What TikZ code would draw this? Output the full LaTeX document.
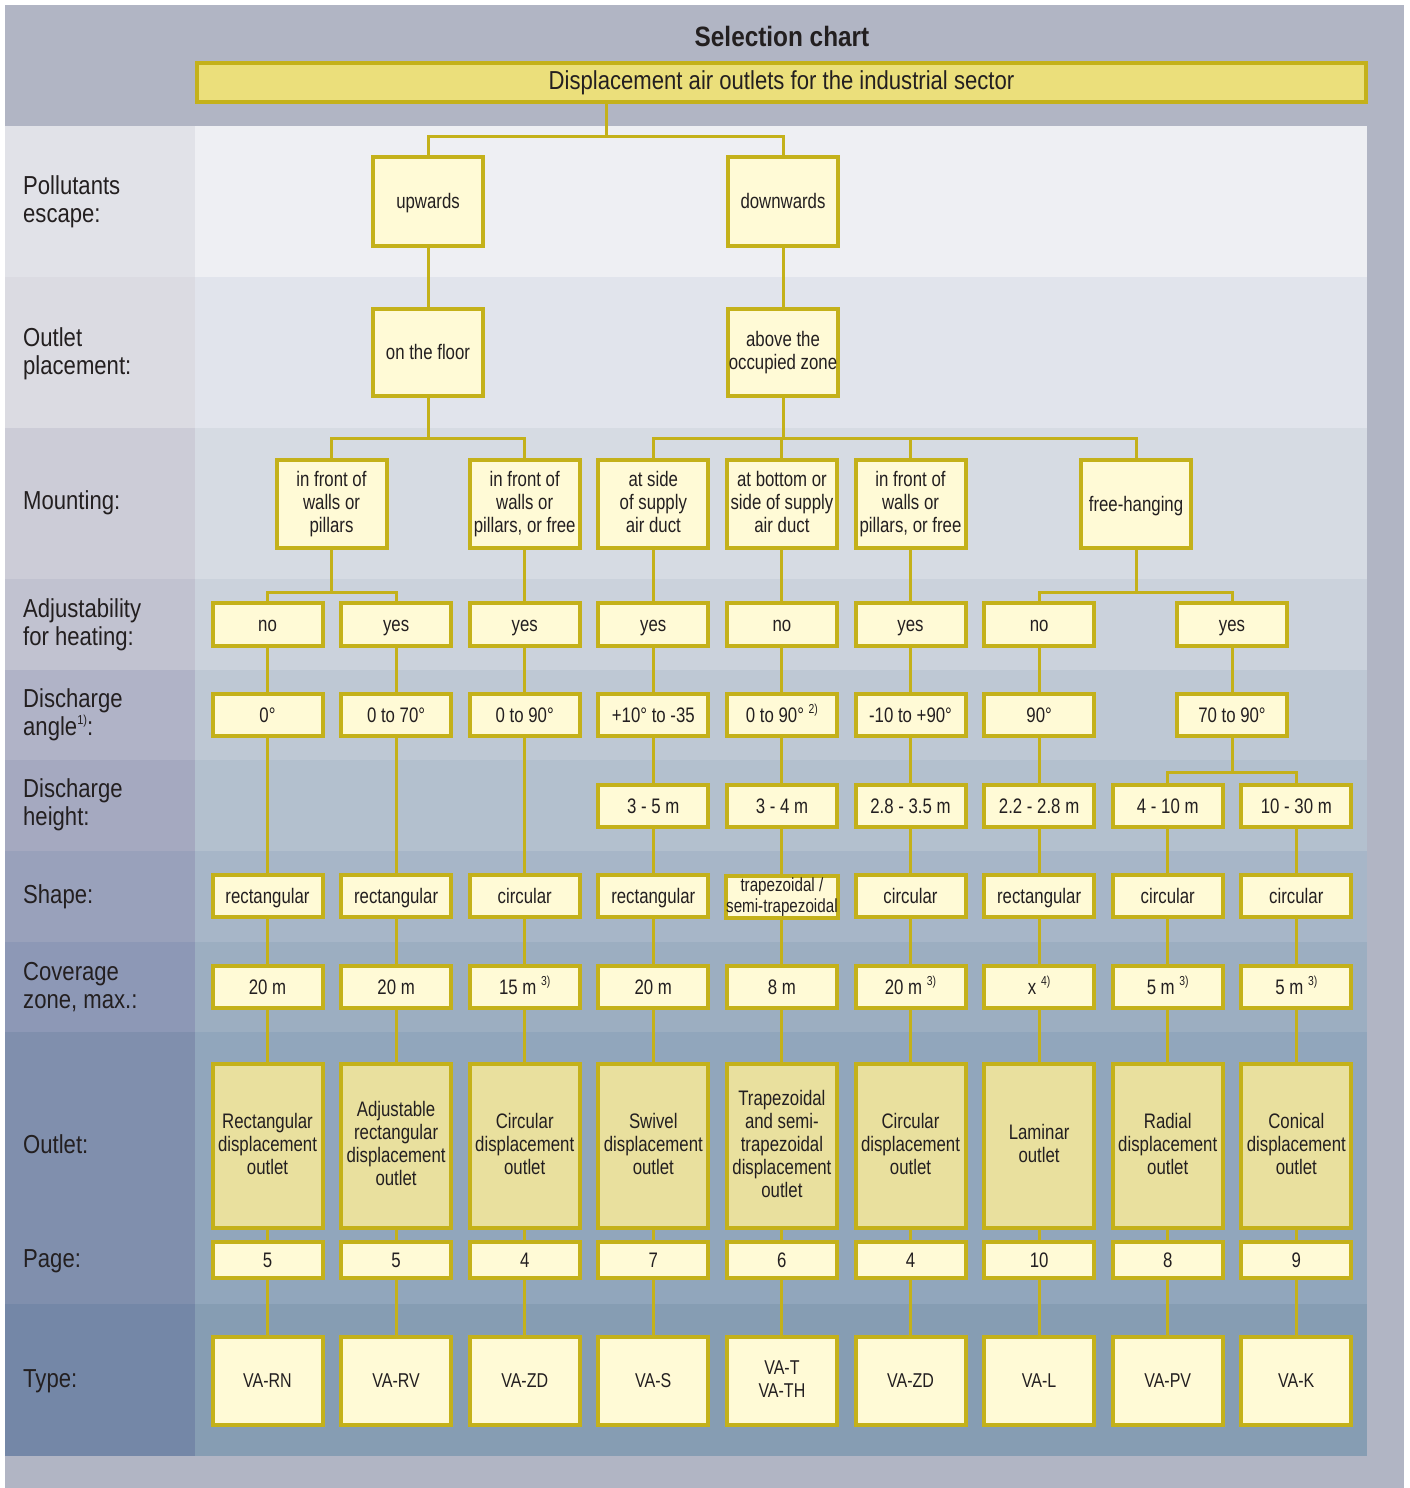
\documentclass[tikz,border=0pt]{standalone}
\usepackage{fontspec}
\setmainfont{Liberation Sans}[FakeStretch=0.8]
\newfontfamily\lblfam{Liberation Sans}[FakeStretch=0.85]
\newfontfamily\ttlfam{Liberation Sans}[FakeStretch=0.87]
\usetikzlibrary{calc}
\definecolor{frame}{HTML}{B1B5C4}
\definecolor{r1m}{HTML}{EEEFF3}\definecolor{r1l}{HTML}{E1E2E8}
\definecolor{r2m}{HTML}{E1E4EC}\definecolor{r2l}{HTML}{DBDBE2}
\definecolor{r3m}{HTML}{D6DBE3}\definecolor{r3l}{HTML}{CCCCD7}
\definecolor{r4m}{HTML}{CBD2DC}\definecolor{r4l}{HTML}{C1C2D0}
\definecolor{r5m}{HTML}{BEC8D4}\definecolor{r5l}{HTML}{B0B3C7}
\definecolor{r6m}{HTML}{B3C0CE}\definecolor{r6l}{HTML}{A5A9C0}
\definecolor{r7m}{HTML}{A7B6C8}\definecolor{r7l}{HTML}{99A1BB}
\definecolor{r8m}{HTML}{9CAEC1}\definecolor{r8l}{HTML}{8D98B6}
\definecolor{r9m}{HTML}{91A6BC}\definecolor{r9l}{HTML}{808FAD}
\definecolor{r10m}{HTML}{869DB3}\definecolor{r10l}{HTML}{7487A7}
\definecolor{lfill}{HTML}{FFFAD6}
\definecolor{ofill}{HTML}{E9E09E}
\definecolor{hfill}{HTML}{EBDF7B}
\definecolor{bcol}{HTML}{C4B11A}
\definecolor{tcol}{HTML}{231F20}
\newcommand\myup[1]{\raisebox{0.8ex}{\fontsize{13}{13}\selectfont #1}}
\begin{document}
\begin{tikzpicture}[x=1pt,y=-1pt,
  box/.style={draw=bcol, line width=4pt, fill=lfill, minimum width=110pt, inner sep=0pt,
    align=center, text=tcol, font=\fontsize{21}{23}\selectfont,
    execute at begin node={\rule{0pt}{0.9em}}, execute at end node={\vphantom{p}}},
  obox/.style={box, fill=ofill},
  link/.style={draw=bcol, line width=3pt},
  lbl/.style={anchor=west, align=left, inner sep=0pt, text=tcol, font=\lblfam\fontsize{26}{28}\selectfont,
    execute at begin node={\vphantom{Ap}}, execute at end node={\vphantom{Ap}}},
  hA/.style={minimum height=89pt},
  hB/.style={minimum height=87pt},
  hC/.style={minimum height=88pt},
  hS/.style={minimum height=42pt},
  hAd/.style={minimum height=43pt},
  hO/.style={minimum height=164pt},
  hP/.style={minimum height=36pt},
  tp/.style={box, hC, font=\fontsize{20}{23}\selectfont}]
\fill[white] (0,0) rectangle (1409,1488);
\path[use as bounding box] (0,0) rectangle (1409,1488);
\fill[frame] (5,5) rectangle (1404,1488);
\foreach \ya/\yb/\cm/\cl in {126/277/r1m/r1l, 277/428/r2m/r2l, 428/579/r3m/r3l, 579/670/r4m/r4l,
  670/760/r5m/r5l, 760/851/r6m/r6l, 851/942/r7m/r7l, 942/1032/r8m/r8l, 1032/1304/r9m/r9l, 1304/1456/r10m/r10l}
 {\fill[\cl] (5,\ya) rectangle (195,\yb); \fill[\cm] (195,\ya) rectangle (1367,\yb);}

% title and header
\node[text=tcol, font=\ttlfam\bfseries\fontsize{28}{30}\selectfont] (title) at (782,36) {Selection chart};
\node[draw=bcol, line width=4pt, fill=hfill, minimum width=1169pt, minimum height=39pt, inner sep=0pt,
  text=tcol, font=\lblfam\fontsize{26}{28}\selectfont] (hdr) at (781.5,82.5) {\vphantom{Ap}Displacement air outlets for the industrial sector};

% row labels
\node[lbl] (L1) at (23,202) {Pollutants\\escape:};
\node[lbl] (L2) at (23,354) {Outlet\\placement:};
\node[lbl] (L3) at (23,503) {Mounting:};
\node[lbl] (L4) at (23,624.5) {Adjustability\\for heating:};
\node[lbl] (L5) at (23,715) {Discharge\\angle\myup{1)}:};
\node[lbl] (L6) at (23,805) {Discharge\\height:};
\node[lbl] (L7) at (23,897) {Shape:};
\node[lbl] (L8) at (23,988) {Coverage\\zone, max.:};
\node[lbl] (L9) at (23,1147) {Outlet:};
\node[lbl] (L10) at (23,1261) {Page:};
\node[lbl] (L11) at (23,1381) {Type:};

% level 1 and 2
\node[box,hA] (up) at (428,201.5) {upwards};
\node[box,hA] (down) at (783,201.5) {downwards};
\node[box,hB] (floor) at (428,352.5) {on the floor};
\node[box,hB] (above) at (783,352.5) {above the\\occupied zone};

% mounting
\node[box,hC] (m1) at (331.5,504) {in front of\\walls or\\pillars};
\node[box,hC] (m2) at (524.7,504) {in front of\\walls or\\pillars, or free};
\node[box,hC] (m3) at (653.3,504) {at side\\of supply\\air duct};
\node[box,hC] (m4) at (781.9,504) {at bottom or\\side of supply\\air duct};
\node[box,hC] (m5) at (910.5,504) {in front of\\walls or\\pillars, or free};
\node[box,hC] (m6) at (1136,504) {free-hanging};

% adjustability
\node[box,hAd] (a1) at (267.5,624.5) {no};
\node[box,hAd] (a2) at (396.1,624.5) {yes};
\node[box,hAd] (a3) at (524.7,624.5) {yes};
\node[box,hAd] (a4) at (653.3,624.5) {yes};
\node[box,hAd] (a5) at (781.9,624.5) {no};
\node[box,hAd] (a6) at (910.5,624.5) {yes};
\node[box,hAd] (a7) at (1039.1,624.5) {no};
\node[box,hAd] (a8) at (1232,624.5) {yes};

% discharge angle
\node[box,hS] (b1) at (267.5,715) {0°};
\node[box,hS] (b2) at (396.1,715) {0 to 70°};
\node[box,hS] (b3) at (524.7,715) {0 to 90°};
\node[box,hS] (b4) at (653.3,715) {+10° to -35};
\node[box,hS] (b5) at (781.9,715) {0 to 90° \myup{2)}};
\node[box,hS] (b6) at (910.5,715) {-10 to +90°};
\node[box,hS] (b7) at (1039.1,715) {90°};
\node[box,hS] (b8) at (1232,715) {70 to 90°};

% discharge height
\node[box,hS] (h4) at (653.3,806) {3 - 5 m};
\node[box,hS] (h5) at (781.9,806) {3 - 4 m};
\node[box,hS] (h6) at (910.5,806) {2.8 - 3.5 m};
\node[box,hS] (h7) at (1039.1,806) {2.2 - 2.8 m};
\node[box,hS] (h8) at (1167.7,806) {4 - 10 m};
\node[box,hS] (h9) at (1296.3,806) {10 - 30 m};

% shape
\node[box,hS] (s1) at (267.5,896) {rectangular};
\node[box,hS] (s2) at (396.1,896) {rectangular};
\node[box,hS] (s3) at (524.7,896) {circular};
\node[box,hS] (s4) at (653.3,896) {rectangular};
\node[box,hS,font=\fontsize{19}{21.5}\selectfont,execute at begin node={},execute at end node={}] (s5) at (781.9,897) {trapezoidal /\\semi-trapezoidal};
\node[box,hS] (s6) at (910.5,896) {circular};
\node[box,hS] (s7) at (1039.1,896) {rectangular};
\node[box,hS] (s8) at (1167.7,896) {circular};
\node[box,hS] (s9) at (1296.3,896) {circular};

% coverage
\node[box,hS] (cov1) at (267.5,987) {20 m};
\node[box,hS] (cov2) at (396.1,987) {20 m};
\node[box,hS] (cov3) at (524.7,987) {15 m \myup{3)}};
\node[box,hS] (cov4) at (653.3,987) {20 m};
\node[box,hS] (cov5) at (781.9,987) {8 m};
\node[box,hS] (cov6) at (910.5,987) {20 m \myup{3)}};
\node[box,hS] (cov7) at (1039.1,987) {x \myup{4)}};
\node[box,hS] (cov8) at (1167.7,987) {5 m \myup{3)}};
\node[box,hS] (cov9) at (1296.3,987) {5 m \myup{3)}};

% outlet
\node[obox,hO] (o1) at (267.5,1146) {Rectangular\\displacement\\outlet};
\node[obox,hO] (o2) at (396.1,1146) {Adjustable\\rectangular\\displacement\\outlet};
\node[obox,hO] (o3) at (524.7,1146) {Circular\\displacement\\outlet};
\node[obox,hO] (o4) at (653.3,1146) {Swivel\\displacement\\outlet};
\node[obox,hO] (o5) at (781.9,1146) {Trapezoidal\\and semi-\\trapezoidal\\displacement\\outlet};
\node[obox,hO] (o6) at (910.5,1146) {Circular\\displacement\\outlet};
\node[obox,hO] (o7) at (1039.1,1146) {Laminar\\outlet};
\node[obox,hO] (o8) at (1167.7,1146) {Radial\\displacement\\outlet};
\node[obox,hO] (o9) at (1296.3,1146) {Conical\\displacement\\outlet};

% page
\node[box,hP] (p1) at (267.5,1260) {5};
\node[box,hP] (p2) at (396.1,1260) {5};
\node[box,hP] (p3) at (524.7,1260) {4};
\node[box,hP] (p4) at (653.3,1260) {7};
\node[box,hP] (p5) at (781.9,1260) {6};
\node[box,hP] (p6) at (910.5,1260) {4};
\node[box,hP] (p7) at (1039.1,1260) {10};
\node[box,hP] (p8) at (1167.7,1260) {8};
\node[box,hP] (p9) at (1296.3,1260) {9};

% type
\node[tp] (t1) at (267.5,1381) {VA-RN};
\node[tp] (t2) at (396.1,1381) {VA-RV};
\node[tp] (t3) at (524.7,1381) {VA-ZD};
\node[tp] (t4) at (653.3,1381) {VA-S};
\node[tp] (t5) at (781.9,1381) {VA-T\\VA-TH};
\node[tp] (t6) at (910.5,1381) {VA-ZD};
\node[tp] (t7) at (1039.1,1381) {VA-L};
\node[tp] (t8) at (1167.7,1381) {VA-PV};
\node[tp] (t9) at (1296.3,1381) {VA-K};

% connectors: branching
\coordinate (jt) at (606,136);
\draw[link] (hdr.south -| jt) -- (jt);
\draw[link] (up.north) |- (jt) -| (down.north);
\draw[link] (up.south) -- (floor.north);
\draw[link] (down.south) -- (above.north);
\coordinate (jf) at (428,438);
\draw[link] (floor.south) -- (jf);
\draw[link] (m1.north) |- (jf) -| (m2.north);
\coordinate (ja) at (783,438);
\draw[link] (above.south) -- (ja);
\draw[link] (m3.north) |- (ja) -| (m6.north);
\draw[link] (m4.north) -- (m4.north |- ja);
\draw[link] (m5.north) -- (m5.north |- ja);
\coordinate (jm) at (331.5,592);
\draw[link] (m1.south) -- (jm);
\draw[link] (a1.north) |- (jm) -| (a2.north);
\coordinate (jh) at (1136,592);
\draw[link] (m6.south) -- (jh);
\draw[link] (a7.north) |- (jh) -| (a8.north);
\coordinate (jy) at (1232,772);
\draw[link] (b8.south) -- (jy);
\draw[link] (h8.north) |- (jy) -| (h9.north);

% straight column links
\draw[link] (m2.south) -- (a3.north);
\draw[link] (m3.south) -- (a4.north);
\draw[link] (m4.south) -- (a5.north);
\draw[link] (m5.south) -- (a6.north);
\foreach \i in {1,...,8} {\draw[link] (a\i.south) -- (b\i.north);}
\foreach \i in {1,2,3} {\draw[link] (b\i.south) -- (s\i.north);}
\foreach \i in {4,...,7} {\draw[link] (b\i.south) -- (h\i.north); \draw[link] (h\i.south) -- (s\i.north);}
\foreach \i in {8,9} {\draw[link] (h\i.south) -- (s\i.north);}
\foreach \i in {1,...,9} {
  \draw[link] (s\i.south) -- (cov\i.north);
  \draw[link] (cov\i.south) -- (o\i.north);
  \draw[link] (o\i.south) -- (p\i.north);
  \draw[link] (p\i.south) -- (t\i.north);
}
\end{tikzpicture}
\end{document}
